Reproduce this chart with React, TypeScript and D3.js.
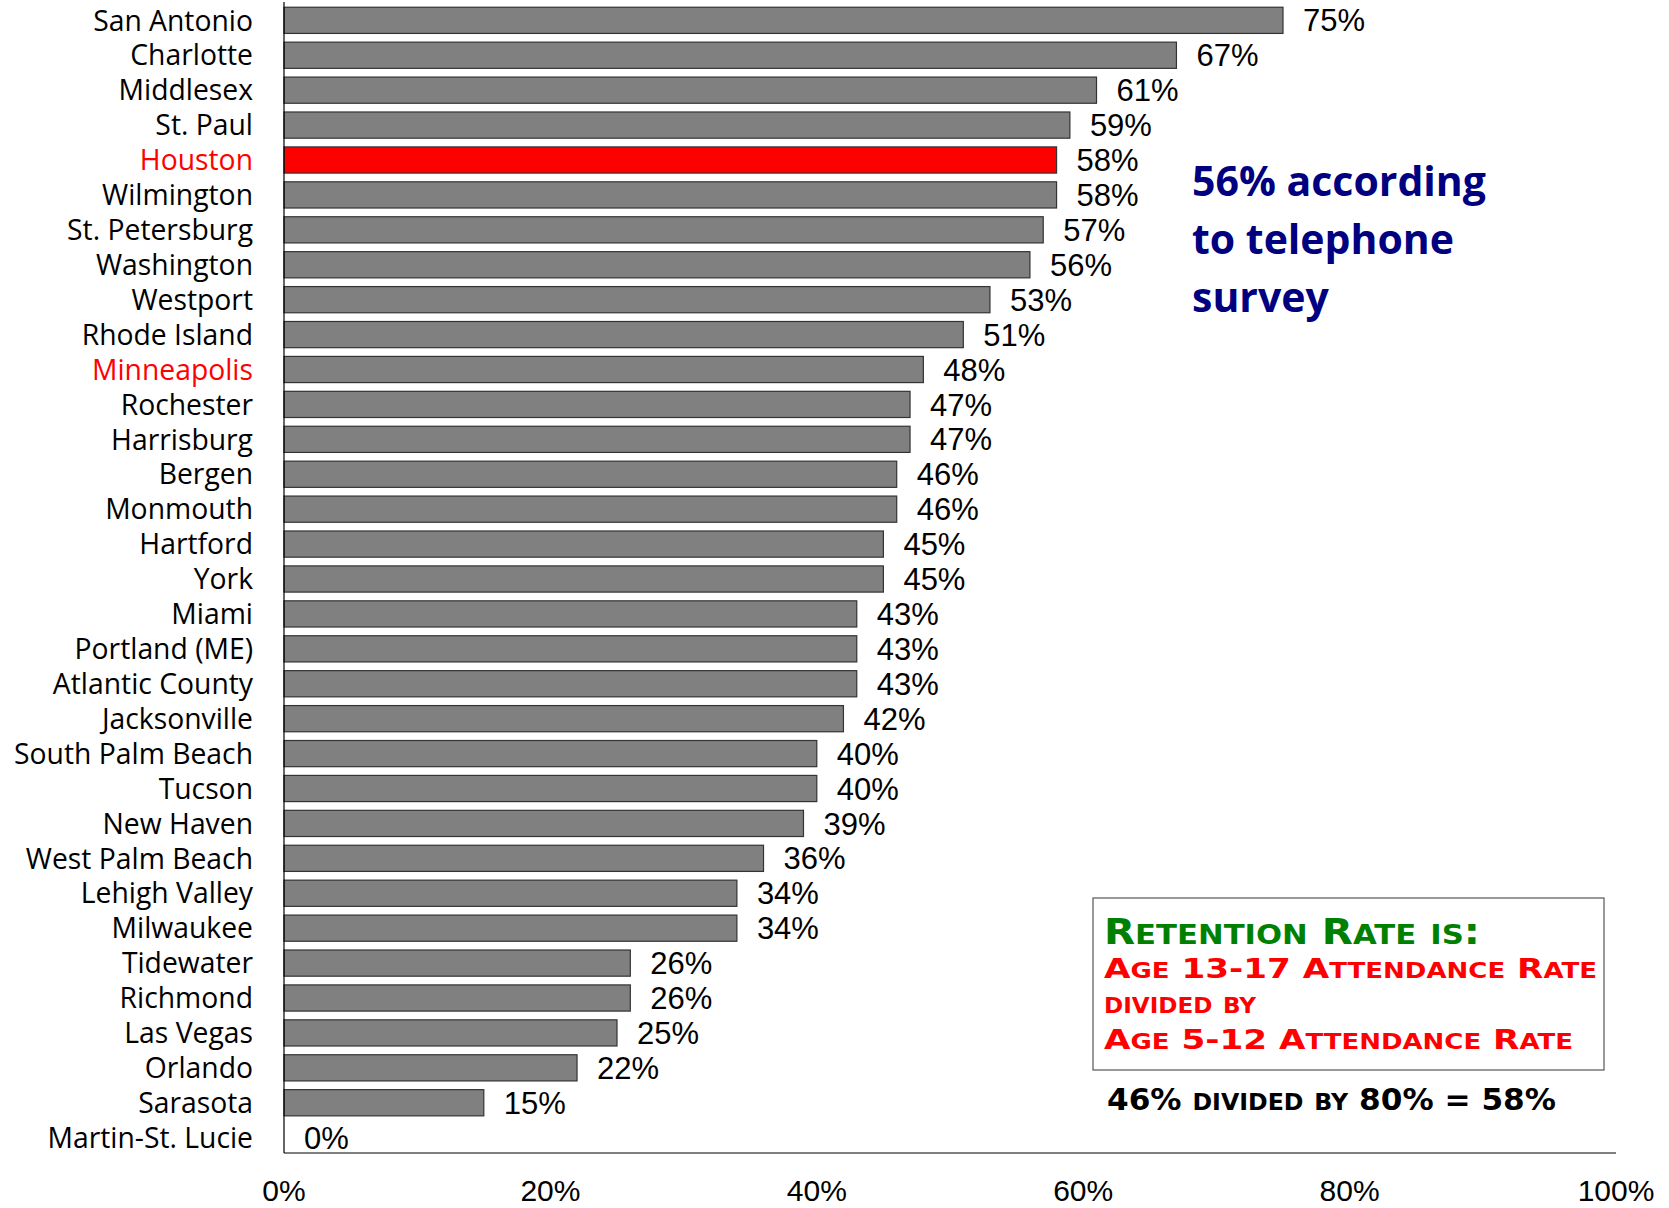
import * as d3 from 'd3';

const cities = [
  'San Antonio', 'Charlotte', 'Middlesex', 'St. Paul', 'Houston', 'Wilmington',
  'St. Petersburg', 'Washington', 'Westport', 'Rhode Island', 'Minneapolis',
  'Rochester', 'Harrisburg', 'Bergen', 'Monmouth', 'Hartford', 'York', 'Miami',
  'Portland (ME)', 'Atlantic County', 'Jacksonville', 'South Palm Beach', 'Tucson',
  'New Haven', 'West Palm Beach', 'Lehigh Valley', 'Milwaukee', 'Tidewater',
  'Richmond', 'Las Vegas', 'Orlando', 'Sarasota', 'Martin-St. Lucie',
];
const retention = [
  0.75, 0.67, 0.61, 0.59, 0.58, 0.58, 0.57, 0.56, 0.53, 0.51, 0.48, 0.47, 0.47,
  0.46, 0.46, 0.45, 0.45, 0.43, 0.43, 0.43, 0.42, 0.40, 0.40, 0.39, 0.36, 0.34,
  0.34, 0.26, 0.26, 0.25, 0.22, 0.15, 0.0,
];
const xTicks = [0, 0.2, 0.4, 0.6, 0.8, 1.0];
const redLabels = ['Houston', 'Minneapolis'];
const redBars = ['Houston'];

const noteLines = ['56% according', 'to telephone', 'survey'];

const W = 1669;
const H = 1208;

// fake small caps: lowercase runs drawn as capitals at a smaller size
function smallCaps(s: string, ratio: number) {
  const runs: { t: string; small: boolean }[] = [];
  for (const ch of s) {
    const small = ch !== ch.toUpperCase();
    const last = runs[runs.length - 1];
    if (last && last.small === small) last.t += ch;
    else runs.push({ t: ch, small });
  }
  return runs.map((r, i) => (
    <tspan key={i} fontSize={r.small ? `${ratio}em` : undefined}>{r.small ? r.t.toUpperCase() : r.t}</tspan>
  ));
}

export default function App() {
  const x = d3.scaleLinear().domain([0, 1]).range([284, 1616]);
  const y = d3.scaleBand<string>().domain(cities).range([2, 1156]).paddingInner(0.25).paddingOuter(0.15);
  const pct = d3.format('.0%');
  const rows = cities.map((c, i) => ({ city: c, v: retention[i] }));
  const axisY = 1153;

  return (
    <svg width={W} height={H} style={{ position: 'absolute', left: 0, top: 0, display: 'block', background: '#fff' }}>
      {/* bars */}
      {rows.map(d => (
        d.v > 0 ? (
          <rect key={d.city} x={x(0)} y={y(d.city)!} width={x(d.v) - x(0)} height={y.bandwidth()}
            fill={redBars.includes(d.city) ? '#ff0000' : '#808080'} stroke="#333" strokeWidth={1.2} />
        ) : null
      ))}
      {/* axes */}
      <line x1={x(0)} x2={x(0)} y1={2} y2={axisY} stroke="#000" strokeWidth={1.2} />
      <line x1={x(0)} x2={x(1)} y1={axisY} y2={axisY} stroke="#000" strokeWidth={1.2} />
      {/* category labels */}
      {rows.map(d => (
        <text key={'l' + d.city} x={253} y={y(d.city)! + y.bandwidth() / 2} dy="0.36em" textAnchor="end"
          fontFamily="'Open Sans', sans-serif" fontSize={28.3}
          fill={redLabels.includes(d.city) ? '#ff0000' : '#000'}>{d.city}</text>
      ))}
      {/* value labels */}
      {rows.map(d => (
        <text key={'v' + d.city} x={x(d.v) + 20} y={y(d.city)! + y.bandwidth() / 2} dy="0.36em"
          fontFamily="'Liberation Sans', Arial, sans-serif" fontSize={31} fill="#000">{pct(d.v)}</text>
      ))}
      {/* x tick labels */}
      {xTicks.map(t => (
        <text key={'t' + t} x={x(t)} y={1201} textAnchor="middle"
          fontFamily="'Liberation Sans', Arial, sans-serif" fontSize={30} fill="#000">{pct(t)}</text>
      ))}
      {/* telephone survey note */}
      {noteLines.map((s, i) => (
        <text key={s} x={1192} y={196 + i * 58} fontFamily="'Open Sans', sans-serif" fontWeight={700}
          fontSize={41} fill="#000080">{s}</text>
      ))}
      {/* definition box */}
      <rect x={1093} y={898} width={511} height={172} fill="#fff" stroke="#555" strokeWidth={1.2} />
      <g fontFamily="'DejaVu Sans', sans-serif" fontWeight={700}>
        <text x={1104} y={944} fontSize={35} fill="#008000" textLength={376} lengthAdjust="spacingAndGlyphs">{smallCaps('Retention Rate is:', 0.76)}</text>
        <text x={1104} y={978} fontSize={27} fill="#ff0000" textLength={493} lengthAdjust="spacingAndGlyphs">{smallCaps('Age 13-17 Attendance Rate', 0.76)}</text>
        <text x={1104} y={1013} fontSize={27} fill="#ff0000" textLength={152} lengthAdjust="spacingAndGlyphs">{smallCaps('divided by', 0.76)}</text>
        <text x={1104} y={1049} fontSize={27} fill="#ff0000" textLength={469} lengthAdjust="spacingAndGlyphs">{smallCaps('Age 5-12 Attendance Rate', 0.76)}</text>
        <text x={1107} y={1110} fontSize={30} fill="#000" textLength={449} lengthAdjust="spacingAndGlyphs">{smallCaps('46% divided by 80% = 58%', 0.76)}</text>
      </g>
    </svg>
  );
}
